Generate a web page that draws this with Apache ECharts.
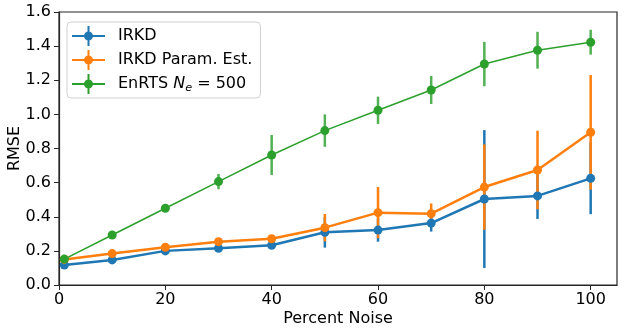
<!DOCTYPE html>
<html><head><meta charset="utf-8">
<script src="https://cdn.jsdelivr.net/npm/echarts@6/dist/echarts.min.js"></script>
<style>html,body{margin:0;padding:0;background:#fff}#c{width:627px;height:333px}</style>
</head><body><div id="c"></div>
<script>
const noise = [1, 10, 20, 30, 40, 50, 60, 70, 80, 90, 100];
const irkd = [0.117, 0.147, 0.200, 0.215, 0.233, 0.309, 0.322, 0.363, 0.504, 0.522, 0.625];
const irkdErr = [0.01, 0.01, 0.01, 0.012, 0.015, 0.09, 0.068, 0.05, 0.404, 0.135, 0.21];
const irkdPE = [0.150, 0.184, 0.221, 0.254, 0.271, 0.336, 0.424, 0.418, 0.574, 0.674, 0.895];
const irkdPEErr = [0.01, 0.015, 0.02, 0.02, 0.02, 0.08, 0.15, 0.06, 0.25, 0.23, 0.336];
const enrts = [0.152, 0.293, 0.450, 0.606, 0.762, 0.905, 1.024, 1.143, 1.295, 1.376, 1.423];
const enrtsErr = [0.01, 0.022, 0.02, 0.045, 0.117, 0.095, 0.08, 0.082, 0.13, 0.108, 0.073];
const yTicks = ['0.0','0.2','0.4','0.6','0.8','1.0','1.2','1.4','1.6'];

const FONT = 'DejaVu Sans';
const FS = 16;
const names = ['IRKD', 'IRKD Param. Est.', 'EnRTS N_e = 500'];
const colors = ['#1f77b4', '#ff7f0e', '#2ca02c'];
const barColors = ['#1f77b4', '#ff7f0e', '#52b152'];
const lineW = [2.5, 2.5, 1.5];
const vals = [irkd, irkdPE, enrts];
const errs = [irkdErr, irkdPEErr, enrtsErr];

const series = [];
vals.forEach((v, k) => {
  series.push({
    type: 'custom',
    name: names[k],
    silent: true,
    renderItem: function (params, api) {
      const p1 = api.coord([api.value(0), api.value(1)]);
      const p2 = api.coord([api.value(0), api.value(2)]);
      return {
        type: 'line',
        shape: { x1: p1[0], y1: p1[1], x2: p2[0], y2: p2[1] },
        style: { stroke: barColors[k], lineWidth: 2.5 }
      };
    },
    data: noise.map((x, i) => [x, v[i] - errs[k][i], v[i] + errs[k][i]]),
    encode: { x: 0, y: [1, 2] },
    clip: false
  });
  series.push({
    type: 'line',
    name: names[k],
    data: noise.map((x, i) => [x, v[i]]),
    symbol: 'circle',
    symbolSize: 9,
    showSymbol: true,
    lineStyle: { color: colors[k], width: lineW[k] },
    itemStyle: { color: colors[k] },
    silent: true,
    animation: false
  });
});

const icon = 'path://M0,9L33,9L33,11L0,11Z M15.5,0L17.5,0L17.5,20L15.5,20Z M16.5,5.5A4.5,4.5 0 1 1 16.49,5.5Z';

const chart = echarts.init(document.getElementById('c'), null, { renderer: 'canvas' });
chart.setOption({
  animation: false,
  color: colors,
  grid: { left: 59, right: 10, top: 12, bottom: 48, outerBoundsMode: 'none', containLabel: false,
    show: true, borderColor: '#262626', borderWidth: 1.2, backgroundColor: 'transparent' },
  legend: {
    orient: 'vertical',
    left: 67, top: 22,
    data: names,
    icon: icon,
    itemWidth: 33, itemHeight: 20,
    itemGap: 4,
    padding: [4, 8, 4, 5],
    backgroundColor: '#fff',
    borderColor: '#d0d0d0', borderWidth: 1, borderRadius: 4,
    textStyle: {
      fontFamily: FONT, fontSize: FS, color: '#000', padding: [0, 0, 0, 8],
      rich: {
        a: { fontFamily: FONT, fontSize: FS, color: '#000' },
        i: { fontFamily: FONT, fontSize: FS, fontStyle: 'italic', color: '#000' },
        s: { fontFamily: FONT, fontSize: FS * 0.7, fontStyle: 'italic', color: '#000', verticalAlign: 'bottom', padding: [8, 0, 0, 0] }
      }
    },
    formatter: function (n) {
      if (n === names[2]) return '{a|EnRTS }{i|N}{s|e}{a| = 500}';
      return '{a|' + n + '}';
    }
  },
  xAxis: {
    type: 'value', min: 0, max: 104.95, interval: 20,
    name: 'Percent Noise', nameLocation: 'middle', nameGap: 26, nameMoveOverlap: false,
    nameTextStyle: { fontFamily: FONT, fontSize: FS, color: '#000' },
    axisLine: { show: true, lineStyle: { color: '#262626', width: 1.2 } },
    axisTick: { show: true, inside: false, length: 5, lineStyle: { color: '#262626' } },
    axisLabel: { fontFamily: FONT, fontSize: FS, color: '#000', margin: 7, showMaxLabel: false },
    splitLine: { show: false }
  },
  yAxis: {
    type: 'value', min: 0, max: 1.6, interval: 0.2,
    name: 'RMSE', nameLocation: 'middle', nameGap: 36, nameRotate: 90, nameMoveOverlap: false,
    nameTextStyle: { fontFamily: FONT, fontSize: FS, color: '#000' },
    axisLine: { show: true, lineStyle: { color: '#262626', width: 1.2 } },
    axisTick: { show: true, inside: false, length: 5, lineStyle: { color: '#262626' } },
    axisLabel: { fontFamily: FONT, fontSize: FS, color: '#000', margin: 8,
      formatter: function (v) { return yTicks[Math.round(v / 0.2)]; } },
    splitLine: { show: false }
  },
  series: series
});
</script></body></html>
